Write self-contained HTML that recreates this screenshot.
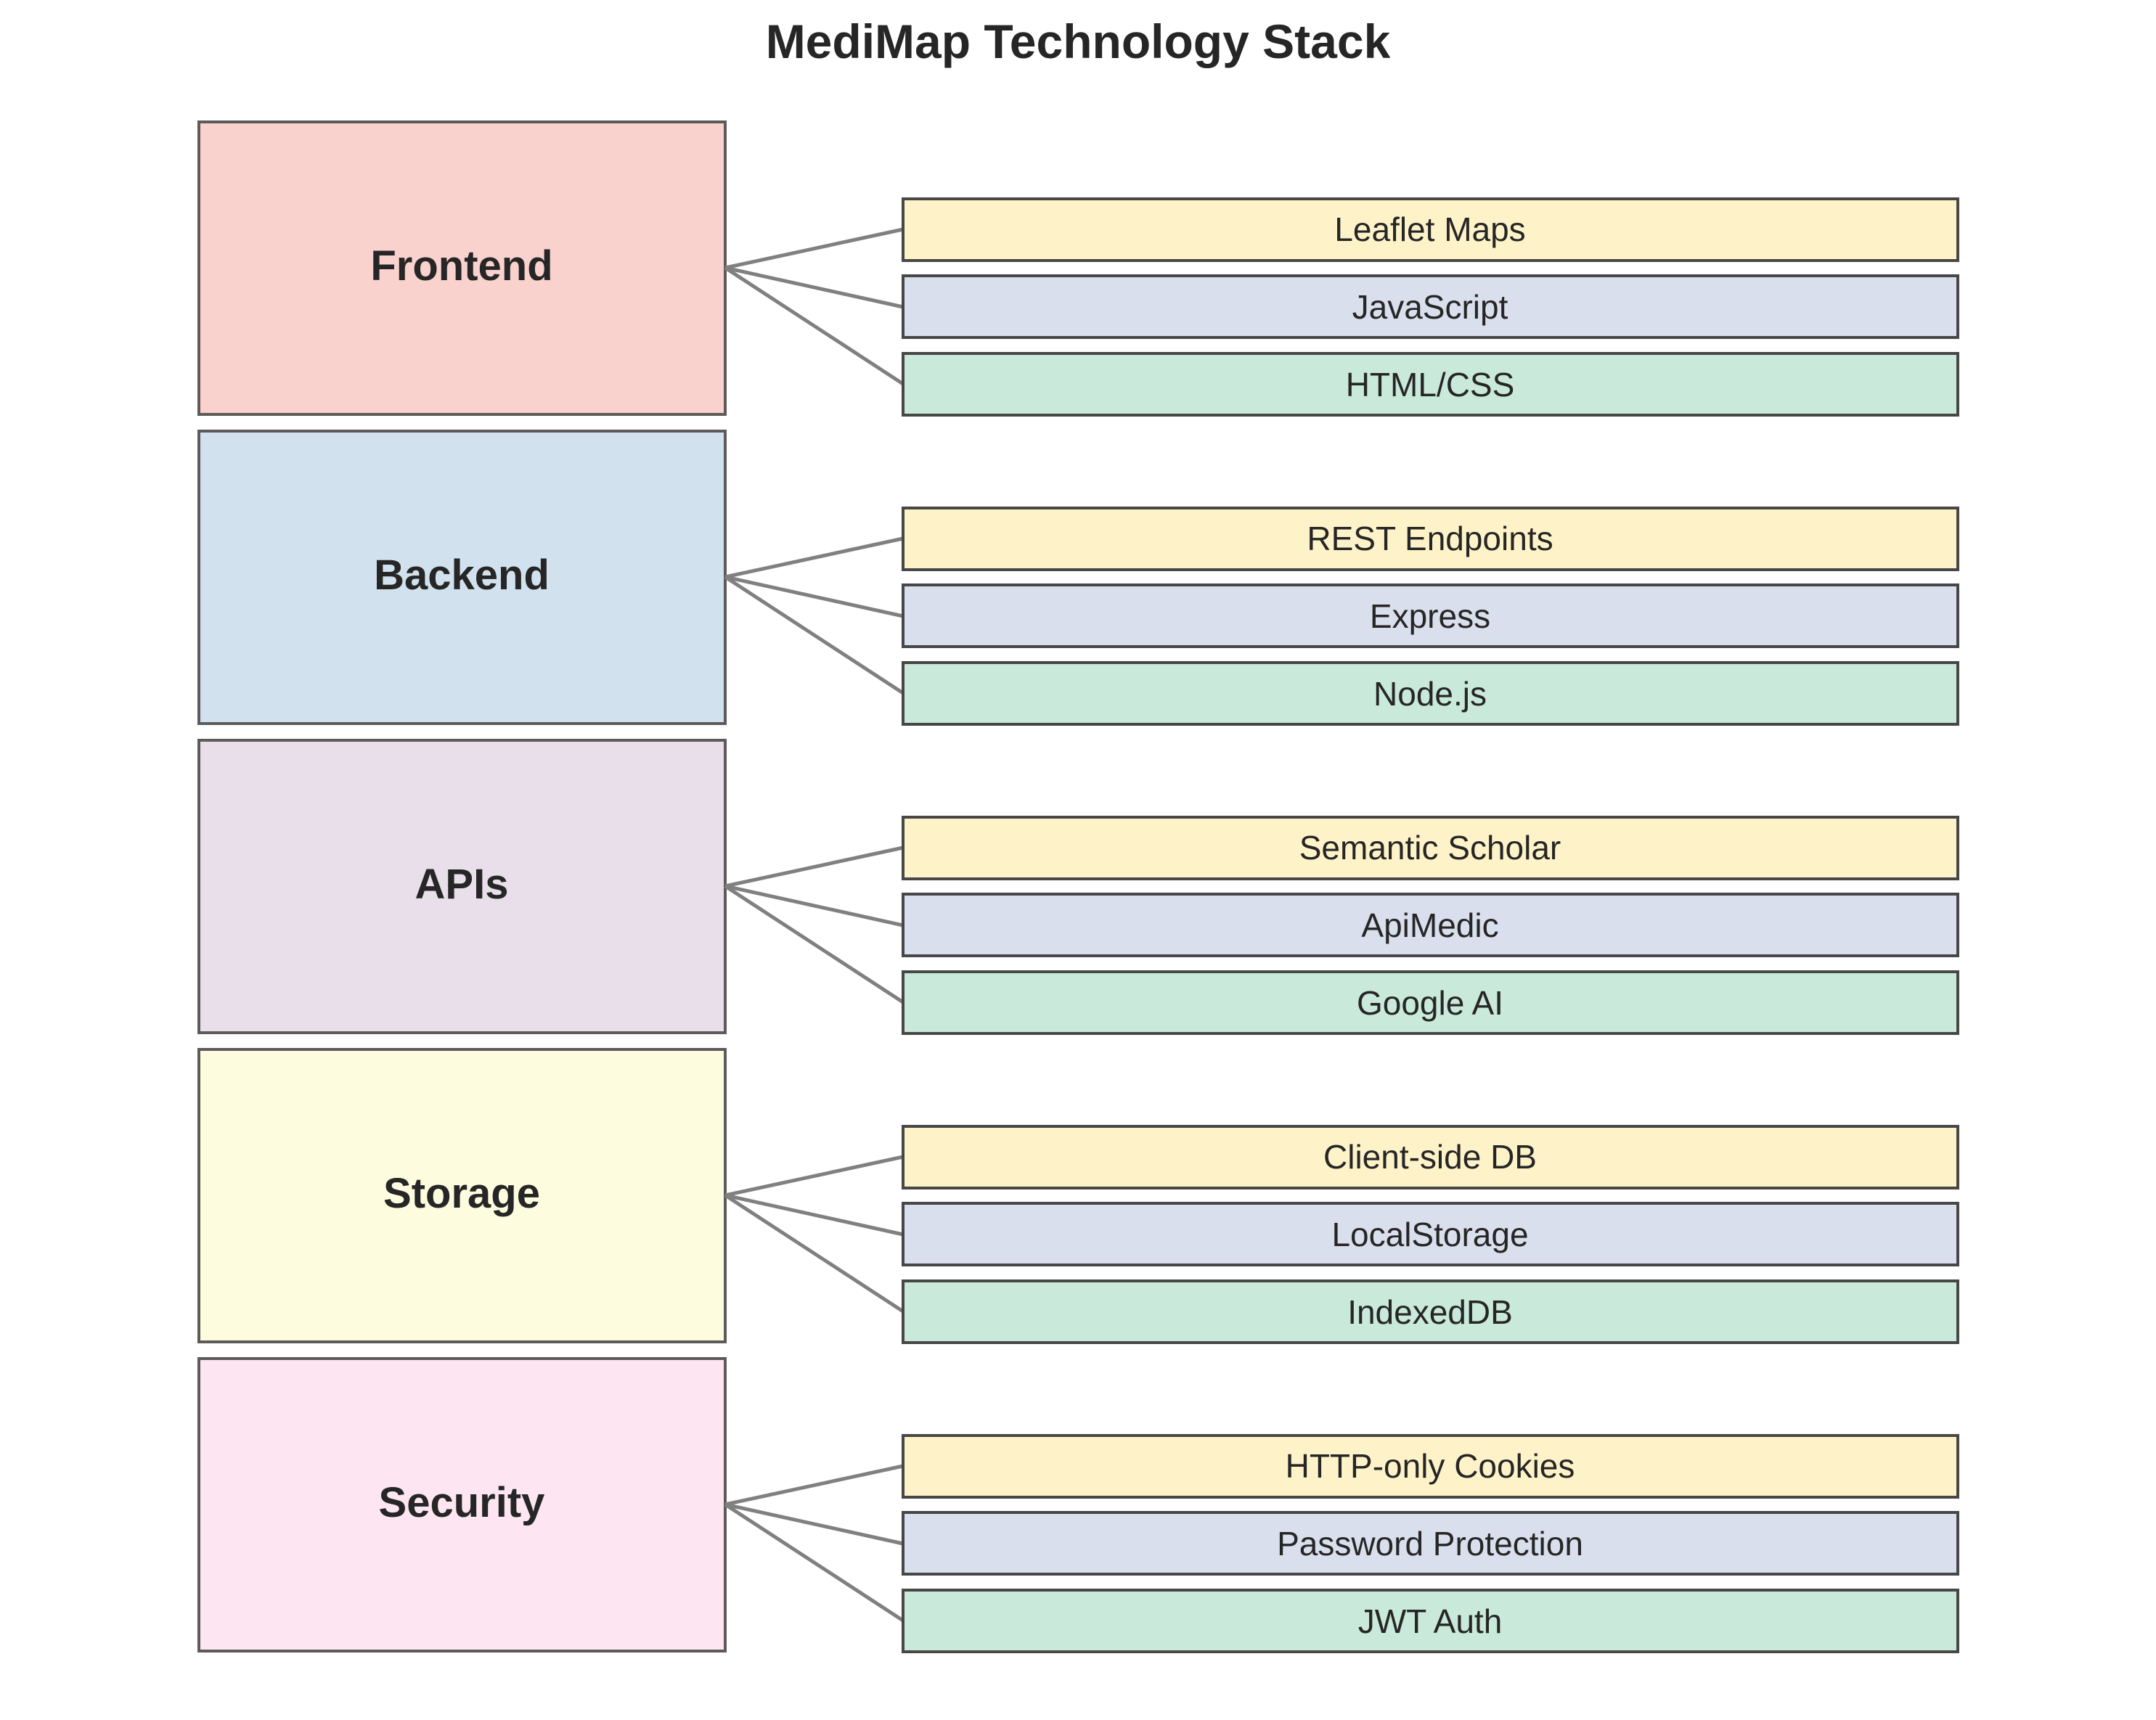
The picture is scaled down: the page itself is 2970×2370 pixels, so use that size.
<!DOCTYPE html>
<html><head><meta charset="utf-8"><style>
html,body{margin:0;padding:0;background:#fff;}
svg{display:block;}
text{font-family:"Liberation Sans",Arial,sans-serif;fill:#262626;}
</style></head><body>
<svg width="2970" height="2370" viewBox="0 0 2970 2370" xmlns="http://www.w3.org/2000/svg">
<rect width="2970" height="2370" fill="#fff"/>
<text x="1485" y="80" font-size="66" font-weight="bold" text-anchor="middle">MediMap Technology Stack</text>
<g stroke-width="4">
<g transform="translate(0,0)">
<rect x="274" y="168" width="725" height="403" fill="#f9d1cd" stroke="#5e5a5a"/>
<text x="636" y="386" font-size="58" font-weight="bold" text-anchor="middle" stroke="none">Frontend</text>
<line x1="999" y1="369" x2="1244" y2="316" stroke="#808080" stroke-width="5"/>
<line x1="999" y1="369" x2="1244" y2="423" stroke="#808080" stroke-width="5"/>
<line x1="999" y1="369" x2="1244" y2="529" stroke="#808080" stroke-width="5"/>
<rect x="1244" y="274" width="1453" height="85" fill="#fef3c8" stroke="#474747"/>
<rect x="1244" y="380" width="1453" height="85" fill="#d9dfec" stroke="#474747"/>
<rect x="1244" y="487" width="1453" height="85" fill="#c9e9da" stroke="#474747"/>
<text x="1970" y="332" font-size="46" text-anchor="middle" stroke="none">Leaflet Maps</text>
<text x="1970" y="439" font-size="46" text-anchor="middle" stroke="none">JavaScript</text>
<text x="1970" y="546" font-size="46" text-anchor="middle" stroke="none">HTML/CSS</text>
</g>
<g transform="translate(0,426)">
<rect x="274" y="168" width="725" height="403" fill="#d1e1ed" stroke="#5e5a5a"/>
<text x="636" y="386" font-size="58" font-weight="bold" text-anchor="middle" stroke="none">Backend</text>
<line x1="999" y1="369" x2="1244" y2="316" stroke="#808080" stroke-width="5"/>
<line x1="999" y1="369" x2="1244" y2="423" stroke="#808080" stroke-width="5"/>
<line x1="999" y1="369" x2="1244" y2="529" stroke="#808080" stroke-width="5"/>
<rect x="1244" y="274" width="1453" height="85" fill="#fef3c8" stroke="#474747"/>
<rect x="1244" y="380" width="1453" height="85" fill="#d9dfec" stroke="#474747"/>
<rect x="1244" y="487" width="1453" height="85" fill="#c9e9da" stroke="#474747"/>
<text x="1970" y="332" font-size="46" text-anchor="middle" stroke="none">REST Endpoints</text>
<text x="1970" y="439" font-size="46" text-anchor="middle" stroke="none">Express</text>
<text x="1970" y="546" font-size="46" text-anchor="middle" stroke="none">Node.js</text>
</g>
<g transform="translate(0,852)">
<rect x="274" y="168" width="725" height="403" fill="#e9dfeb" stroke="#5e5a5a"/>
<text x="636" y="386" font-size="58" font-weight="bold" text-anchor="middle" stroke="none">APIs</text>
<line x1="999" y1="369" x2="1244" y2="316" stroke="#808080" stroke-width="5"/>
<line x1="999" y1="369" x2="1244" y2="423" stroke="#808080" stroke-width="5"/>
<line x1="999" y1="369" x2="1244" y2="529" stroke="#808080" stroke-width="5"/>
<rect x="1244" y="274" width="1453" height="85" fill="#fef3c8" stroke="#474747"/>
<rect x="1244" y="380" width="1453" height="85" fill="#d9dfec" stroke="#474747"/>
<rect x="1244" y="487" width="1453" height="85" fill="#c9e9da" stroke="#474747"/>
<text x="1970" y="332" font-size="46" text-anchor="middle" stroke="none">Semantic Scholar</text>
<text x="1970" y="439" font-size="46" text-anchor="middle" stroke="none">ApiMedic</text>
<text x="1970" y="546" font-size="46" text-anchor="middle" stroke="none">Google AI</text>
</g>
<g transform="translate(0,1278)">
<rect x="274" y="168" width="725" height="403" fill="#fefcdf" stroke="#5e5a5a"/>
<text x="636" y="386" font-size="58" font-weight="bold" text-anchor="middle" stroke="none">Storage</text>
<line x1="999" y1="369" x2="1244" y2="316" stroke="#808080" stroke-width="5"/>
<line x1="999" y1="369" x2="1244" y2="423" stroke="#808080" stroke-width="5"/>
<line x1="999" y1="369" x2="1244" y2="529" stroke="#808080" stroke-width="5"/>
<rect x="1244" y="274" width="1453" height="85" fill="#fef3c8" stroke="#474747"/>
<rect x="1244" y="380" width="1453" height="85" fill="#d9dfec" stroke="#474747"/>
<rect x="1244" y="487" width="1453" height="85" fill="#c9e9da" stroke="#474747"/>
<text x="1970" y="332" font-size="46" text-anchor="middle" stroke="none">Client-side DB</text>
<text x="1970" y="439" font-size="46" text-anchor="middle" stroke="none">LocalStorage</text>
<text x="1970" y="546" font-size="46" text-anchor="middle" stroke="none">IndexedDB</text>
</g>
<g transform="translate(0,1704)">
<rect x="274" y="168" width="725" height="403" fill="#fde6f1" stroke="#5e5a5a"/>
<text x="636" y="386" font-size="58" font-weight="bold" text-anchor="middle" stroke="none">Security</text>
<line x1="999" y1="369" x2="1244" y2="316" stroke="#808080" stroke-width="5"/>
<line x1="999" y1="369" x2="1244" y2="423" stroke="#808080" stroke-width="5"/>
<line x1="999" y1="369" x2="1244" y2="529" stroke="#808080" stroke-width="5"/>
<rect x="1244" y="274" width="1453" height="85" fill="#fef3c8" stroke="#474747"/>
<rect x="1244" y="380" width="1453" height="85" fill="#d9dfec" stroke="#474747"/>
<rect x="1244" y="487" width="1453" height="85" fill="#c9e9da" stroke="#474747"/>
<text x="1970" y="332" font-size="46" text-anchor="middle" stroke="none">HTTP-only Cookies</text>
<text x="1970" y="439" font-size="46" text-anchor="middle" stroke="none">Password Protection</text>
<text x="1970" y="546" font-size="46" text-anchor="middle" stroke="none">JWT Auth</text>
</g>
</g>
</svg>
</body></html>
